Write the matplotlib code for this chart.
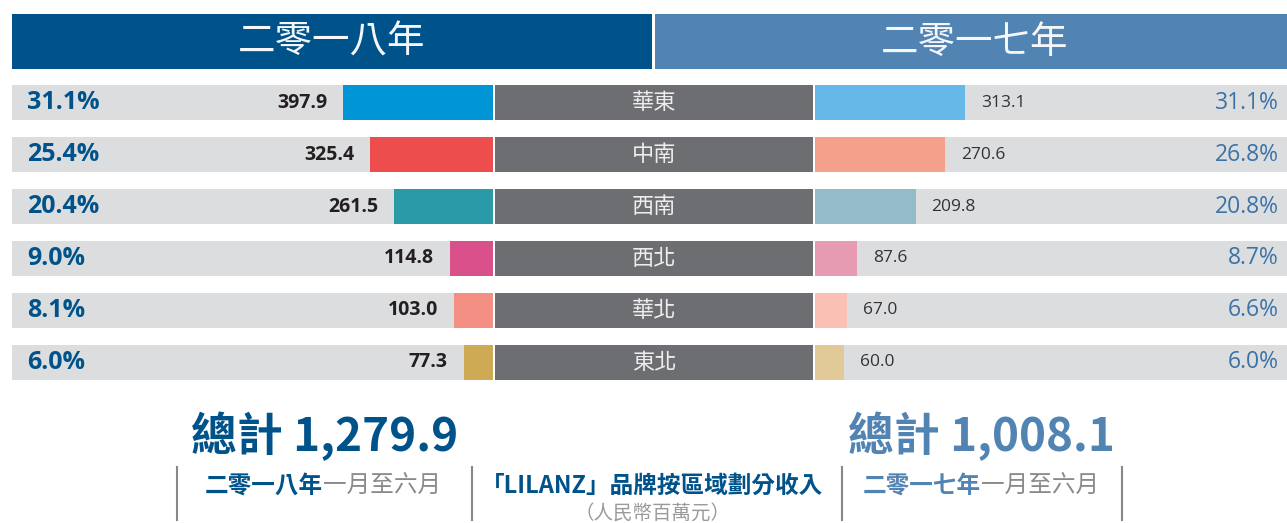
import matplotlib
matplotlib.use("Agg")
import matplotlib.pyplot as plt
from matplotlib.patches import Rectangle
from matplotlib.transforms import blended_transform_factory

# data
regions = ["華東", "中南", "西南", "西北", "華北", "東北"]
rev_2018 = [397.9, 325.4, 261.5, 114.8, 103.0, 77.3]
pct_2018 = ["31.1%", "25.4%", "20.4%", "9.0%", "8.1%", "6.0%"]
rev_2017 = [313.1, 270.6, 209.8, 87.6, 67.0, 60.0]
pct_2017 = ["31.1%", "26.8%", "20.8%", "8.7%", "6.6%", "6.0%"]
total_2018 = "1,279.9"
total_2017 = "1,008.1"
colors_2018 = ["#0096D6", "#EE4D4D", "#2A9AA8", "#D9508A", "#F38F83", "#CFAA54"]
colors_2017 = ["#65B8E7", "#F4A08B", "#93BBC9", "#E79BB2", "#F9C0B3", "#E2CA98"]

plt.rcParams["font.family"] = ["Open Sans", "Noto Sans CJK TC", "DejaVu Sans"]

DARK = "#00538A"
LIGHT = "#5183B3"
ROWBG = "#DCDDDF"
MID = "#6D6E72"

W, H = 1287, 523
fig = plt.figure(figsize=(W / 100, H / 100), dpi=100)


def box(x0, y0, x1, y1):
    return [x0 / W, 1 - y1 / H, (x1 - x0) / W, (y1 - y0) / H]


# base layer in pixel coordinates
base = fig.add_axes([0, 0, 1, 1])
base.set_xlim(0, W)
base.set_ylim(H, 0)
base.axis("off")

cjk = ["Noto Sans CJK TC"]

base.add_patch(Rectangle((12, 14), 640, 55, color=DARK, lw=0))
base.add_patch(Rectangle((655, 14), 632, 55, color=LIGHT, lw=0))
base.text(332, 42, "二零一八年", color="#F4F6FA", fontsize=27, fontweight="light",
          ha="center", va="center", family=cjk)
base.text(975, 42, "二零一七年", color="#F4F6FA", fontsize=27, fontweight="light",
          ha="center", va="center", family=cjk)

ypos = list(range(len(regions)))
bar_h = 0.68
ylim = (len(regions) - 1 + bar_h / 2, -bar_h / 2)

# left side, 2018
axl = fig.add_axes(box(12, 85, 493, 380))
full_l = max(rev_2018) * 481 / 150
axl.set_xlim(full_l, 0)
axl.set_ylim(*ylim)
axl.axis("off")
axl.barh(ypos, [full_l] * len(ypos), height=bar_h, color=ROWBG, lw=0)
axl.barh(ypos, rev_2018, height=bar_h, color=colors_2018, lw=0)
tl = blended_transform_factory(axl.transAxes, axl.transData)
for i, (v, p) in enumerate(zip(rev_2018, pct_2018)):
    axl.text(0.031, i, p, transform=tl, ha="left", va="center",
             fontsize=18, fontweight="bold", color=DARK)
    axl.annotate(f"{v:.1f}", xy=(v, i), xytext=(-16, 0), textcoords="offset pixels",
                 ha="right", va="center", fontsize=14, fontweight="bold", color="#231F20")

# centre labels
axc = fig.add_axes(box(495, 85, 813, 380))
axc.set_xlim(0, 1)
axc.set_ylim(*ylim)
axc.axis("off")
axc.barh(ypos, [1] * len(ypos), height=bar_h, color=MID, lw=0)
for i, r in enumerate(regions):
    axc.text(0.5, i, r, ha="center", va="center", fontsize=16, color="#EDEDED",
             family=cjk)

# right side, 2017
axr = fig.add_axes(box(815, 85, 1287, 380))
full_r = max(rev_2017) * 472 / 150
axr.set_xlim(0, full_r)
axr.set_ylim(*ylim)
axr.axis("off")
axr.barh(ypos, [full_r] * len(ypos), height=bar_h, color=ROWBG, lw=0)
axr.barh(ypos, rev_2017, height=bar_h, color=colors_2017, lw=0)
tr = blended_transform_factory(axr.transAxes, axr.transData)
for i, (v, p) in enumerate(zip(rev_2017, pct_2017)):
    axr.text(0.983, i, p, transform=tr, ha="right", va="center",
             fontsize=16.5, color="#3B73A8")
    axr.annotate(f"{v:.1f}", xy=(v, i), xytext=(16, 0), textcoords="offset pixels",
                 ha="left", va="center", fontsize=12.5, color="#333333")

# totals and captions
base.text(325, 436, "總計 " + total_2018, ha="center", va="center", fontsize=33,
          fontweight="bold", color=DARK, family=cjk)
base.text(981, 436, "總計 " + total_2017, ha="center", va="center", fontsize=33,
          fontweight="bold", color=LIGHT, family=cjk)

for x in [177, 472, 842, 1122]:
    base.plot([x, x], [467, 520], color="#888888", lw=1.5)

base.text(323, 486, "二零一八年", ha="right", va="center", fontsize=17,
          fontweight="bold", color=DARK, family=cjk)
base.text(323, 486, "一月至六月", ha="left", va="center", fontsize=17,
          color="#8A8A8A", family=cjk)
base.text(981, 486, "二零一七年", ha="right", va="center", fontsize=17,
          fontweight="bold", color=LIGHT, family=cjk)
base.text(981, 486, "一月至六月", ha="left", va="center", fontsize=17,
          color="#8A8A8A", family=cjk)
base.text(652, 486, "「LILANZ」品牌按區域劃分收入", ha="center", va="center",
          fontsize=17, fontweight="bold", color=DARK, family=cjk)
base.text(652, 513, "（人民幣百萬元）", ha="center", va="center", fontsize=14,
          style="italic", color="#9A9A9A", family=cjk)

fig.savefig("out.png", dpi=100)
